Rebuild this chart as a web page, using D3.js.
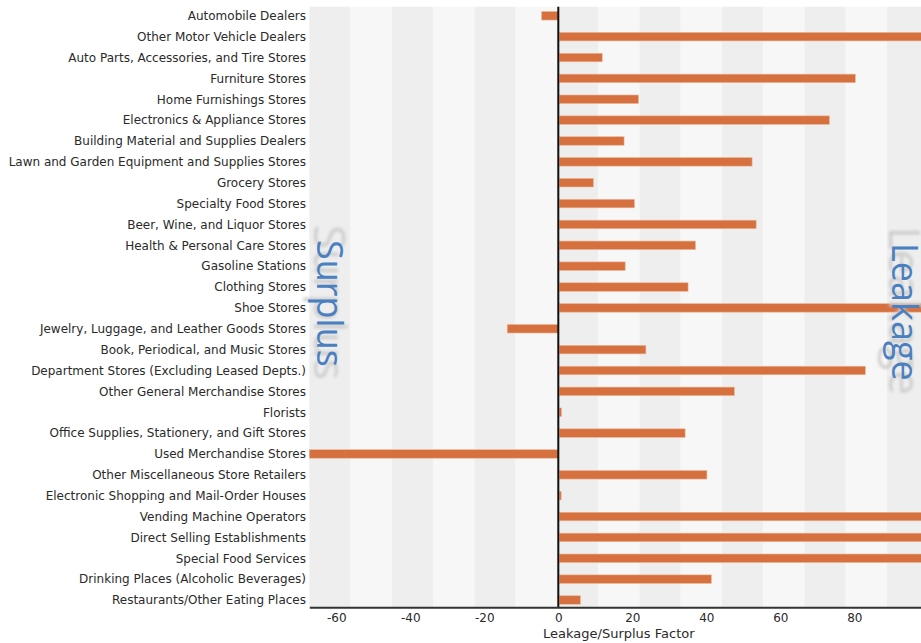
<!DOCTYPE html>
<html>
<head>
<meta charset="utf-8">
<script src="https://cdn.jsdelivr.net/npm/d3@7/dist/d3.min.js"></script>
<style>
  html, body { margin: 0; padding: 0; background: #ffffff; }
  svg { display: block; }
</style>
</head>
<body>
<svg id="chart" width="921" height="643"></svg>
<script>
const categories = [
  "Automobile Dealers",
  "Other Motor Vehicle Dealers",
  "Auto Parts, Accessories, and Tire Stores",
  "Furniture Stores",
  "Home Furnishings Stores",
  "Electronics & Appliance Stores",
  "Building Material and Supplies Dealers",
  "Lawn and Garden Equipment and Supplies Stores",
  "Grocery Stores",
  "Specialty Food Stores",
  "Beer, Wine, and Liquor Stores",
  "Health & Personal Care Stores",
  "Gasoline Stations",
  "Clothing Stores",
  "Shoe Stores",
  "Jewelry, Luggage, and Leather Goods Stores",
  "Book, Periodical, and Music Stores",
  "Department Stores (Excluding Leased Depts.)",
  "Other General Merchandise Stores",
  "Florists",
  "Office Supplies, Stationery, and Gift Stores",
  "Used Merchandise Stores",
  "Other Miscellaneous Store Retailers",
  "Electronic Shopping and Mail-Order Houses",
  "Vending Machine Operators",
  "Direct Selling Establishments",
  "Special Food Services",
  "Drinking Places (Alcoholic Beverages)",
  "Restaurants/Other Eating Places"
];
const factorValues = [
  -4.5, 100, 11.6, 80.0, 21.4, 73.0, 17.5, 52.1, 9.2, 20.3,
  53.2, 36.8, 17.8, 34.8, 100, -13.8, 23.4, 82.7, 47.3, 0.6,
  34.0, -67.3, 39.9, 0.5, 100, 100, 100, 41.1, 5.7
];
const tickValues = [-60, -40, -20, 0, 20, 40, 60, 80];
const axisTitle = "Leakage/Surplus Factor";
const sideLabels = ["Surplus", "Leakage"];
const domainX = [-67.3, 100];
const bandCount = 15;

const svg = d3.select("#chart");
const plotTop = 6.7, plotBottom = 607.3;
const x = d3.scaleLinear().domain(domainX).range([309.3, 928.3]);
const y = d3.scalePoint().domain(categories).range([15.8, 600]);

// background bands
const bandW = (domainX[1] - domainX[0]) / bandCount;
const bands = d3.range(bandCount).map(i => [domainX[0] + i * bandW, domainX[0] + (i + 1) * bandW]);
svg.append("g").selectAll("rect").data(bands).join("rect")
  .attr("x", d => x(d[0]))
  .attr("width", d => x(d[1]) - x(d[0]))
  .attr("y", plotTop)
  .attr("height", plotBottom - plotTop)
  .attr("fill", (d, i) => i % 2 === 0 ? "#eeeeee" : "#f7f7f7");

// category labels
svg.append("g").selectAll("text").data(categories).join("text")
  .attr("x", 306)
  .attr("y", d => y(d))
  .attr("dy", "0.36em")
  .attr("text-anchor", "end")
  .attr("font-family", "'DejaVu Sans', Verdana, sans-serif")
  .attr("font-size", 12)
  .attr("fill", "#2a2a2a")
  .text(d => d);

// bars
const barH = 8.5;
svg.append("g").selectAll("rect").data(categories).join("rect")
  .attr("x", (d, i) => x(Math.min(0, factorValues[i])) + (factorValues[i] >= 0 ? 1 : 0))
  .attr("width", (d, i) => Math.max(0.8, Math.abs(x(factorValues[i]) - x(0))))
  .attr("y", d => y(d) - barH / 2)
  .attr("height", barH)
  .attr("fill", "#d6703e")
  .attr("stroke", "#eab595")
  .attr("stroke-width", 0.6);

// side labels with soft shadow
const defs = svg.append("defs");
defs.append("filter").attr("id", "blur").attr("x", "-20%").attr("y", "-20%").attr("width", "140%").attr("height", "140%")
  .append("feGaussianBlur").attr("stdDeviation", 1.6);

const sideSpecs = [
  { text: sideLabels[0], bx: 317, start: 240 },
  { text: sideLabels[1], bx: 892, start: 243 }
];
sideSpecs.forEach(s => {
  const blue = svg.append("text")
    .attr("font-family", "'Open Sans', sans-serif")
    .attr("font-size", 36)
    .attr("fill", "#4a7fc0")
    .attr("text-anchor", "start")
    .attr("transform", `translate(${s.bx},${s.start}) rotate(90)`)
    .text(s.text);
  const len = blue.node().getComputedTextLength();
  const cy = s.start + len / 2;
  svg.insert("text", () => blue.node())
    .attr("font-family", "'Open Sans', sans-serif")
    .attr("font-size", 44)
    .attr("fill", "#cdcdcd")
    .attr("text-anchor", "middle")
    .attr("filter", "url(#blur)")
    .attr("transform", `translate(${s.bx - 3},${cy - 1}) rotate(90)`)
    .text(s.text);
});

// zero line
svg.append("line")
  .attr("x1", x(0)).attr("x2", x(0))
  .attr("y1", plotTop).attr("y2", plotBottom)
  .attr("stroke", "#111").attr("stroke-width", 2);

// x axis
const axis = svg.append("g")
  .attr("transform", `translate(0,${plotBottom})`)
  .call(d3.axisBottom(x).tickValues(tickValues).tickSize(0).tickPadding(6).tickFormat(d => String(d)));
axis.select(".domain").attr("stroke", "#333").attr("stroke-width", 2);
axis.selectAll("text")
  .attr("font-family", "'DejaVu Sans', Verdana, sans-serif")
  .attr("font-size", 12)
  .attr("fill", "#2a2a2a");

svg.append("text")
  .attr("x", (x.range()[0] + x.range()[1]) / 2)
  .attr("y", 637.5)
  .attr("text-anchor", "middle")
  .attr("font-family", "'DejaVu Sans', Verdana, sans-serif")
  .attr("font-size", 13)
  .attr("fill", "#2a2a2a")
  .text(axisTitle);
</script>
</body>
</html>
